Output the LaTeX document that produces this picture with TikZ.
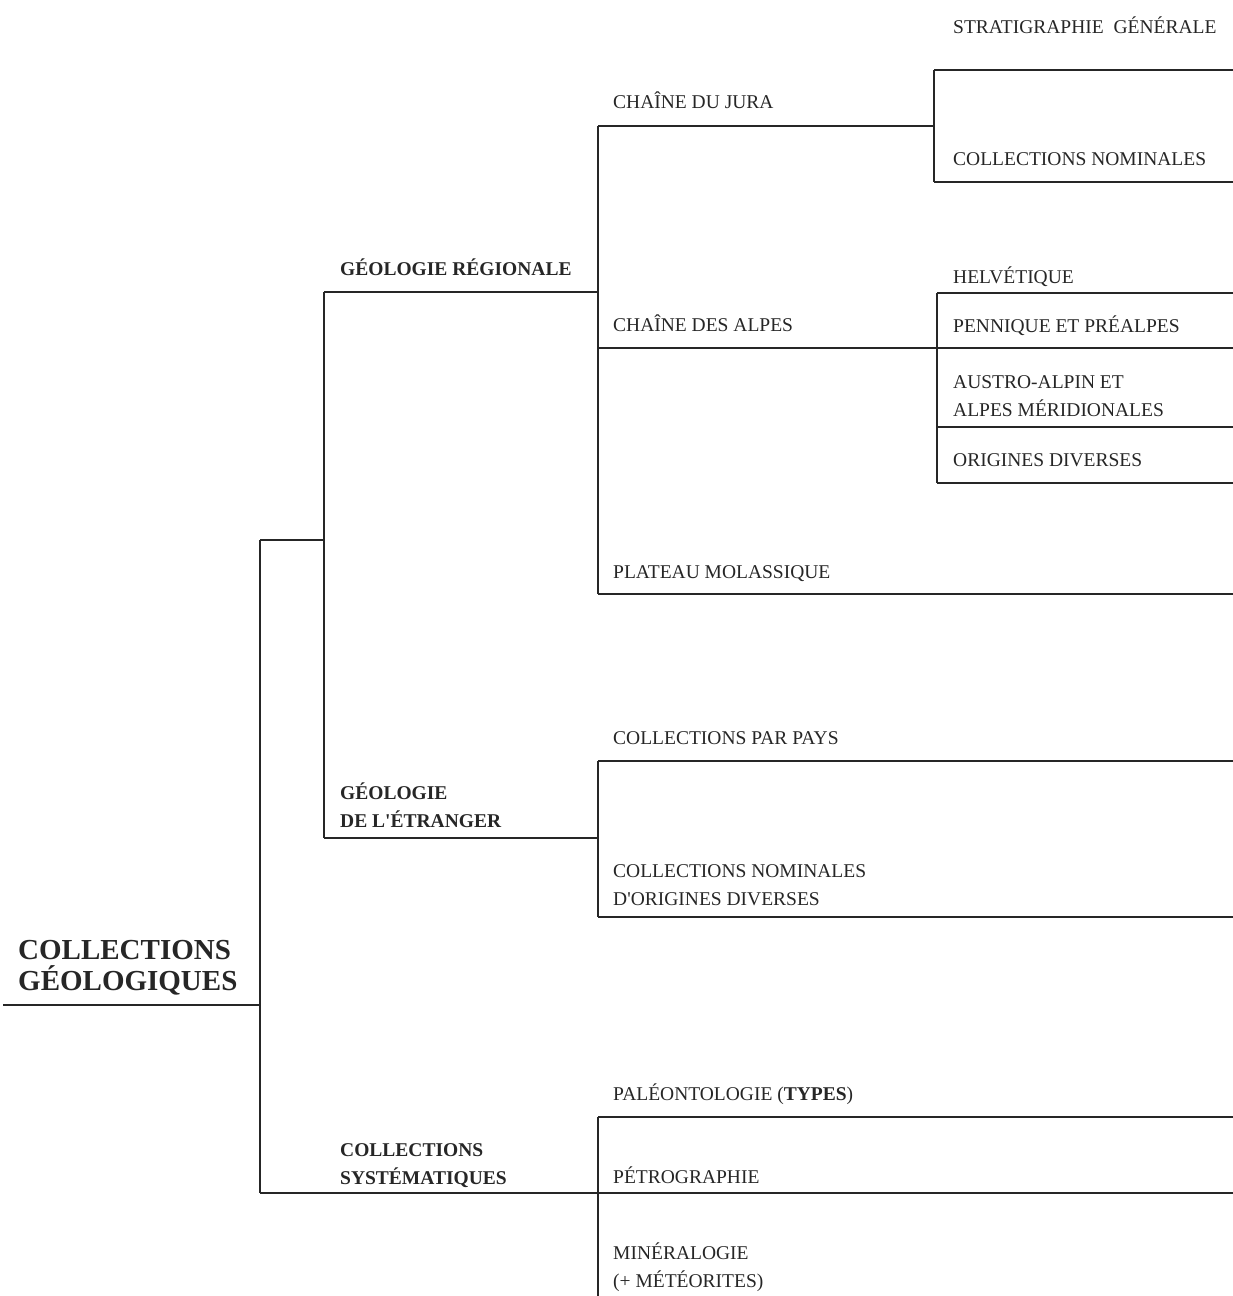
\documentclass[tikz,border=0pt]{standalone}
\usepackage{fontspec}
\setmainfont{Liberation Serif}
\usetikzlibrary{positioning}

\begin{document}
\begin{tikzpicture}[x=1pt, y=-1pt,
    lbl/.style={anchor=base west, inner sep=0pt, align=left, text=black!85, font=\fontsize{19.5}{28}\selectfont},
    head/.style={lbl, font=\fontsize{19.5}{28}\selectfont\bfseries},
    rootlbl/.style={lbl, font=\fontsize{29}{31}\selectfont\bfseries},
    branch/.style={line width=2pt, black!85}]
    \useasboundingbox (0,0) rectangle (1232,1296);

    % bracket corners
    \coordinate (root-w) at (3,1005);
    \coordinate (root-e) at (260,1005);
    \coordinate (main-n) at (260,540);
    \coordinate (main-s) at (260,1193);
    \coordinate (geo-j) at (324,540);
    \coordinate (geo-n) at (324,292);
    \coordinate (geo-s) at (324,838);
    \coordinate (reg-w) at (598,292);
    \coordinate (reg-n) at (598,126);
    \coordinate (reg-a) at (598,348);
    \coordinate (reg-s) at (598,594);
    \coordinate (jura-w) at (934,126);
    \coordinate (jura-n) at (934,70);
    \coordinate (jura-s) at (934,182);
    \coordinate (alpes-j) at (937,348);
    \coordinate (alpes-n) at (937,293);
    \coordinate (alpes-m) at (937,427);
    \coordinate (alpes-s) at (937,483);
    \coordinate (etr-w) at (598,838);
    \coordinate (etr-n) at (598,761);
    \coordinate (etr-s) at (598,917);
    \coordinate (sys-w) at (598,1193);
    \coordinate (sys-n) at (598,1117);
    \coordinate (sys-s) at (598,1296);

    % labels (multi-line ones sit on their last baseline)
    \node[rootlbl] (root) at (18,990) {COLLECTIONS\\GÉOLOGIQUES};
    \node[head] (regionale) at (340,275) {GÉOLOGIE RÉGIONALE};
    \node[head] (etranger) at (340,827) {GÉOLOGIE\\DE L\textquotesingle ÉTRANGER};
    \node[head] (systematique) at (340,1184) {COLLECTIONS\\SYSTÉMATIQUES};
    \node[lbl] (jura) at (613,108) {CHAÎNE DU JURA};
    \node[lbl] (alpes) at (613,331) {CHAÎNE DES ALPES};
    \node[lbl] (plateau) at (613,578) {PLATEAU MOLASSIQUE};
    \node[lbl] (strati) at (953,33) {STRATIGRAPHIE\ \ GÉNÉRALE};
    \node[lbl] (nominales) at (953,165) {COLLECTIONS NOMINALES};
    \node[lbl] (helvetique) at (953,283) {HELVÉTIQUE};
    \node[lbl] (pennique) at (953,332) {PENNIQUE ET PRÉALPES};
    \node[lbl] (austro) at (953,416) {AUSTRO-ALPIN ET\\ALPES MÉRIDIONALES};
    \node[lbl] (origines) at (953,466) {ORIGINES DIVERSES};
    \node[lbl] (pays) at (613,744) {COLLECTIONS PAR PAYS};
    \node[lbl] (nomdiv) at (613,905) {COLLECTIONS NOMINALES\\D\textquotesingle ORIGINES DIVERSES};
    \node[lbl] (paleo) at (613,1100) {PALÉONTOLOGIE (\textbf{TYPES})};
    \node[lbl] (petro) at (613,1183) {PÉTROGRAPHIE};
    \node[lbl] (minera) at (613,1287) {MINÉRALOGIE\\(+ MÉTÉORITES)};

    % tree
    \draw[branch] (root-w) -- (root-e);
    \draw[branch] (main-n) -- (main-s);
    \draw[branch] (main-n) -- (geo-j);
    \draw[branch] (geo-n) -- (geo-s);
    \draw[branch] (geo-n) -- (reg-w);
    \draw[branch] (reg-n) -- (reg-s);
    \draw[branch] (reg-n) -- (jura-w);
    \draw[branch] (jura-n) -- (jura-s);
    \draw[branch] (jura-n) -- ++(300,0);
    \draw[branch] (jura-s) -- ++(300,0);
    \draw[branch] (reg-a) -- ++(640,0);
    \draw[branch] (alpes-n) -- (alpes-s);
    \draw[branch] (alpes-n) -- ++(300,0);
    \draw[branch] (alpes-m) -- ++(300,0);
    \draw[branch] (alpes-s) -- ++(300,0);
    \draw[branch] (reg-s) -- ++(640,0);
    \draw[branch] (geo-s) -- (etr-w);
    \draw[branch] (etr-n) -- (etr-s);
    \draw[branch] (etr-n) -- ++(640,0);
    \draw[branch] (etr-s) -- ++(640,0);
    \draw[branch] (main-s) -- ++(980,0);
    \draw[branch] (sys-n) -- (sys-s);
    \draw[branch] (sys-n) -- ++(640,0);
\end{tikzpicture}
\end{document}
